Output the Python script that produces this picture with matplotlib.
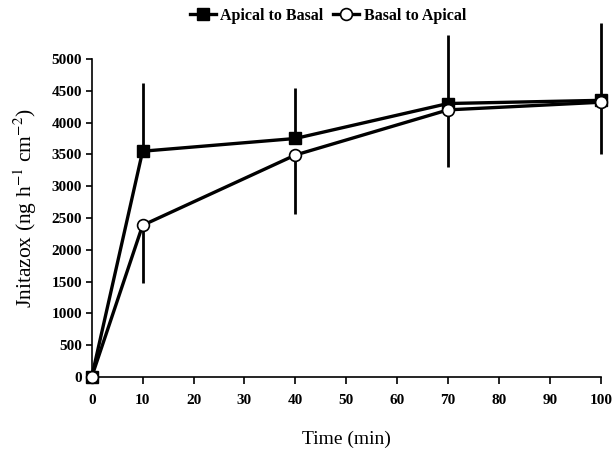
import numpy as np
import matplotlib
matplotlib.use("Agg")
import matplotlib.pyplot as plt

# values
time_min = [0, 10, 40, 70, 100]
apical_to_basal = [0, 3550, 3750, 4300, 4350]
apical_err_up = [0, 1065, 790, 1075, 1210]
basal_to_apical = [0, 2385, 3490, 4200, 4320]
basal_err_down = [0, 905, 925, 895, 815]

plt.rcParams["font.family"] = ["Liberation Serif", "DejaVu Serif"]
plt.rcParams["mathtext.fontset"] = "stix"

fig = plt.figure(figsize=(6.13, 4.49), dpi=100)
ax = fig.add_axes([0.1496, 0.1604, 0.8304, 0.7082])

# one-sided error bars (up for apical, down for basal)
ax.errorbar(time_min, apical_to_basal, yerr=[np.zeros(5), apical_err_up],
            fmt="none", ecolor="black", elinewidth=2, capsize=0, clip_on=False, zorder=2)
ax.errorbar(time_min, basal_to_apical, yerr=[basal_err_down, np.zeros(5)],
            fmt="none", ecolor="black", elinewidth=2, capsize=0, clip_on=False, zorder=2)

ax.plot(time_min, apical_to_basal, color="black", lw=2.4, marker="s", ms=8.5,
        mfc="black", mec="black", label="Apical to Basal", clip_on=False, zorder=3)
ax.plot(time_min, basal_to_apical, color="black", lw=2.4, marker="o", ms=8.5,
        mfc="white", mec="black", mew=1.2, label="Basal to Apical", clip_on=False, zorder=4)

ax.set_xlim(0, 100)
ax.set_ylim(0, 5000)
ax.set_xticks(np.arange(0, 101, 10))
ax.set_yticks(np.arange(0, 5001, 500))

for side in ["top", "right"]:
    ax.spines[side].set_visible(False)
for side in ["left", "bottom"]:
    ax.spines[side].set_linewidth(1.2)

ax.tick_params(axis="both", direction="out", width=1.2, labelsize=11)
ax.tick_params(axis="x", length=5, pad=7)
ax.tick_params(axis="y", length=4, pad=3)
for lbl in ax.get_xticklabels() + ax.get_yticklabels():
    lbl.set_fontweight("bold")

ax.set_xlabel("Time (min)", fontsize=14, labelpad=17)
ax.set_ylabel(r"Jnitazox (ng h$^{-1}$ cm$^{-2}$)", fontsize=15.5, labelpad=8)
ax.yaxis.set_label_coords(-0.104, 0.53)

leg = fig.legend(loc="center", bbox_to_anchor=(0.535, 0.965), ncol=2, frameon=False,
                 handlelength=1.6, handletextpad=0.3, columnspacing=0.6,
                 prop={"weight": "bold", "size": 11.5})

fig.savefig("out.png", dpi=100)
